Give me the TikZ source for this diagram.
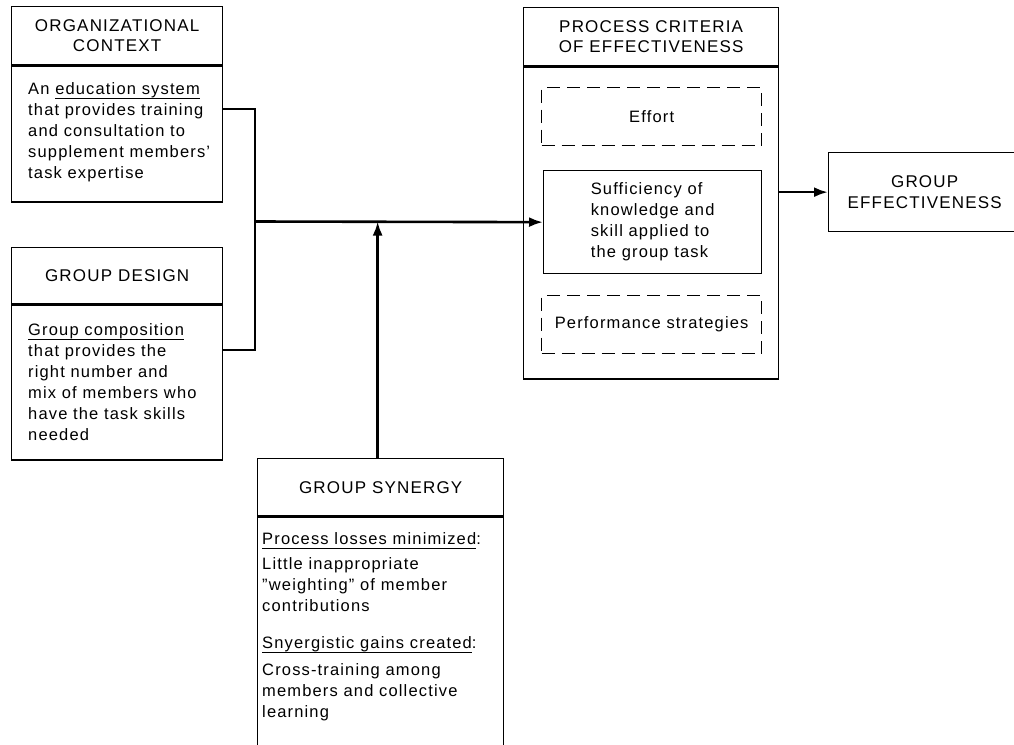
\documentclass[tikz,border=0pt]{standalone}
\usepackage{fontspec}
\setmainfont{Liberation Sans}
\newfontfamily\hdfamily{Liberation Sans}[LetterSpace=7]
\newfontfamily\bdfamily{Liberation Sans}[LetterSpace=7]
\usetikzlibrary{arrows.meta}
\newcommand\hdtext{\hdfamily\fontsize{17}{20.5}\selectfont}
\newcommand\bdtext{\bdfamily\fontsize{16.5}{21}\selectfont}
\newsavebox\ulbox
\newcommand\uln[1]{\sbox\ulbox{#1}\rlap{\rule[-4.5pt]{\wd\ulbox}{1.1pt}}\usebox\ulbox}

\tikzset{
  frame/.style={draw, line width=1.3pt, inner sep=0pt, anchor=north west},
  dframe/.style={frame, dash pattern=on 13pt off 7pt},
  hd/.style={font=\hdtext, align=center},
  bd/.style={font=\bdtext, align=left},
  txt/.style={bd, anchor=north west, inner sep=0pt},
  conn/.style={line width=2.6pt},
  arrow/.style={conn, -{Latex[length=14pt,width=10pt]}},
}

\begin{document}
\begin{tikzpicture}[x=1pt, y=-1pt]
  \fill[white] (0,0) rectangle (1014,744);
  \useasboundingbox (0,0) rectangle (1014,744);

  % Organizational context
  \node[frame, hd, minimum width=211pt, minimum height=58pt] (orgH) at (11,6) {ORGANIZATIONAL\\CONTEXT};
  \node[frame, minimum width=211pt, minimum height=136pt] (orgB) at (orgH.south west) {};
  \node[txt] (orgT) at (28,82) {An \uln{education system}\\that provides training\\and consultation to\\supplement members’\\task expertise};

  % Group design
  \node[frame, hd, minimum width=211pt, minimum height=56pt] (gdH) at (11,247) {GROUP DESIGN};
  \node[frame, minimum width=211pt, minimum height=155pt] (gdB) at (gdH.south west) {};
  \node[txt] (gdT) at (28,323) {\uln{Group composition}\\that provides the\\right number and\\mix of members who\\have the task skills\\needed};

  % Group synergy
  \node[frame, hd, minimum width=246pt, minimum height=57pt] (synH) at (257,458) {GROUP SYNERGY};
  \node[frame, minimum width=246pt, minimum height=250pt] (synB) at (synH.south west) {};
  \node[txt] (synA) at (262,532) {\uln{Process losses minimized}:};
  \node[txt] (synAT) at (262,557) {Little inappropriate\\\textquotedblright weighting\textquotedblright\ of member\\contributions};
  \node[txt] (synC) at (262,636) {\uln{Snyergistic gains created}:};
  \node[txt] (synCT) at (262,663) {Cross-training among\\members and collective\\learning};

  % Process criteria of effectiveness
  \node[frame, hd, minimum width=255pt, minimum height=58pt] (pcH) at (523,7) {PROCESS CRITERIA\\OF EFFECTIVENESS};
  \node[frame, minimum width=255pt, minimum height=312pt] (pcB) at (pcH.south west) {};
  \node[dframe, bd, minimum width=220pt, minimum height=58pt] (effort) at (541,87) {Effort};
  \node[frame, bd, minimum width=218pt, minimum height=103pt] (suff) at (543,170) {Sufficiency of\\knowledge and\\skill applied to\\the group task};
  \node[dframe, bd, minimum width=220pt, minimum height=58pt] (perf) at (541,295) {Performance strategies};

  % Group effectiveness
  \node[frame, hd, minimum width=192pt, minimum height=79pt] (ge) at (828,152) {GROUP\\EFFECTIVENESS};

  % Connectors
  \coordinate (bus) at (255,221.5);
  \draw[conn] ([yshift=25pt]orgB.east) -| (bus);
  \draw[conn] ([yshift=32.5pt]gdB.east) -| (bus);
  \draw[arrow] (bus) -- (suff.west);
  \draw[arrow] ([xshift=-3pt]synH.north) -- ([xshift=-3pt]synH.north |- bus);
  \draw[arrow] (pcB.east |- ge.west) -- (ge.west);
\end{tikzpicture}
\end{document}
